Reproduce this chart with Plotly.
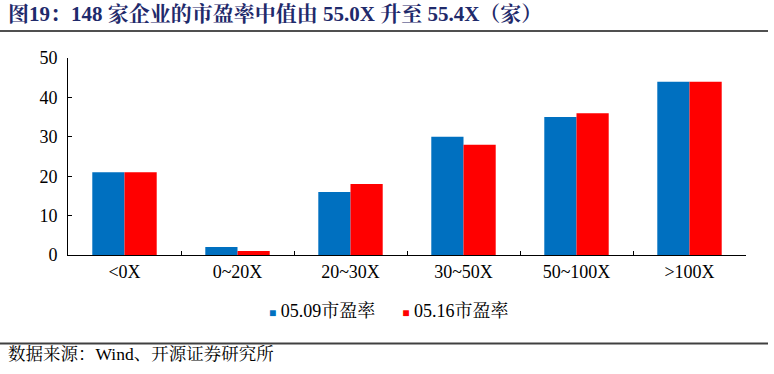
import plotly.graph_objects as go

categories = ["<0X", "0~20X", "20~30X", "30~50X", "50~100X", ">100X"]
pe_0509 = [21, 2, 16, 30, 35, 44]
pe_0516 = [21, 1, 18, 28, 36, 44]
series_names = ["05.09市盈率", "05.16市盈率"]
series_colors = ["#0070C0", "#FF0000"]
y_ticks = [0, 10, 20, 30, 40, 50]

FONT = "Liberation Serif, Times New Roman, Noto Serif CJK SC, Noto Sans CJK SC, serif"

fig = go.Figure()
for name, vals, col in zip(series_names, [pe_0509, pe_0516], series_colors):
    fig.add_trace(go.Bar(x=categories, y=vals, name=name, marker_color=col,
                         marker_line_width=0, showlegend=False))

L, R, T, B = 68, 28, 58, 119
W, H = 774, 374
pw, ph = W - L - R, H - T - B

def px_x(x):
    return (x - L) / pw

def px_y(y):
    return (H - B - y) / ph

legend_text = "&nbsp;&nbsp;&nbsp;&nbsp;&nbsp;&nbsp;".join(
    f"<span style='color:{c};font-size:12px'>■</span>&nbsp;{n}" for n, c in zip(series_names, series_colors)
)

fig.update_layout(
    width=W, height=H,
    margin=dict(l=L, r=R, t=T, b=B),
    paper_bgcolor="white", plot_bgcolor="white",
    barmode="group", bargap=0.43, bargroupgap=0,
    font=dict(family=FONT, size=18, color="#000000"),
    showlegend=False,
    xaxis=dict(type="category", showline=True, linecolor="#000000", linewidth=1,
               ticks="inside", ticklen=4, tickcolor="#000000", tickson="boundaries",
               tickfont=dict(size=18, family=FONT), showgrid=False),
    yaxis=dict(range=[0, 50], tickvals=y_ticks, showline=True, linecolor="#000000", linewidth=1,
               ticks="inside", ticklen=4, tickcolor="#000000", showgrid=False,
               tickfont=dict(size=18, family=FONT), zeroline=False, ticklabelstandoff=6),
    shapes=[
        dict(type="rect", xref="paper", yref="paper", x0=px_x(0), x1=px_x(768), y0=px_y(32), y1=px_y(30),
             line=dict(width=0), fillcolor="#505050", layer="above"),
        dict(type="rect", xref="paper", yref="paper", x0=px_x(0), x1=px_x(768), y0=px_y(344.5), y1=px_y(342.5),
             line=dict(width=0), fillcolor="#404040", layer="above"),
    ],
    annotations=[
        dict(text="<b>图19：148 家企业的市盈率中值由 55.0X 升至 55.4X（家）</b>", xref="paper", yref="paper",
             x=px_x(6), y=px_y(14), xanchor="left", yanchor="middle", showarrow=False,
             font=dict(size=21, color="#1F2A6B", family=FONT)),
        dict(text="数据来源：Wind、开源证券研究所", xref="paper", yref="paper",
             x=px_x(6), y=px_y(354), xanchor="left", yanchor="middle", showarrow=False,
             font=dict(size=17.5, color="#000000", family=FONT)),
        dict(text=legend_text, xref="paper", yref="paper",
             x=px_x(389), y=px_y(311), xanchor="center", yanchor="middle", showarrow=False,
             font=dict(size=18, color="#000000", family=FONT)),
    ],
)

fig.write_html("out.html", config={"displayModeBar": False},
               post_script="document.body.style.margin='0';")
